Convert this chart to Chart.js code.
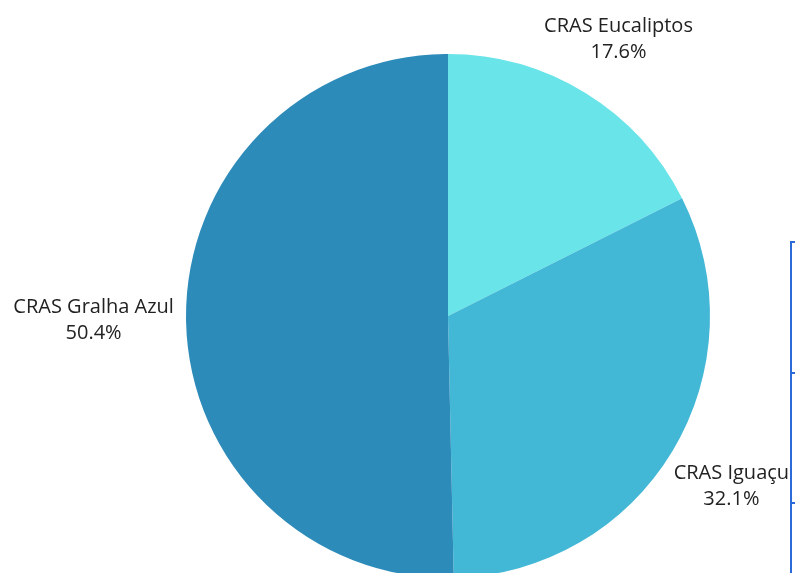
<!DOCTYPE html>
<html>
<head>
<meta charset="utf-8">
<script src="https://cdn.jsdelivr.net/npm/chart.js@4/dist/chart.umd.min.js"></script>
<style>
  html, body { margin: 0; padding: 0; background: #fff; overflow: hidden; width: 795px; height: 573px; }
  #wrap { position: absolute; left: 0; top: 0; width: 900px; height: 640px; }
  #box { position: absolute; left: 790px; top: 241px; width: 100px; height: 400px;
         border-left: 2px solid #2a6bd8; border-top: 2px solid #2a6bd8; }
  .row { position: absolute; left: 0; width: 100%; border-top: 2px solid #2a6bd8; }
</style>
</head>
<body>
<div id="wrap"><canvas id="pieChart"></canvas></div>
<div id="box"><div class="row" style="top:129px"></div><div class="row" style="top:259px"></div></div>
<script>
// カテゴリ
const labels = ['CRAS Eucaliptos', 'CRAS Iguaçu', 'CRAS Gralha Azul'];
// 割合 (%)
const values = [17.6, 32.1, 50.4];
const colors = ['#69E4E9', '#43B8D6', '#2D8BBA'];

// 外側ラベル (中心角の方向に配置)
const outerLabels = {
    id: 'outerLabels',
    afterDraw(chart) {
        const ctx = chart.ctx;
        const meta = chart.getDatasetMeta(0);
        ctx.save();
        ctx.font = '20px "Open Sans"';
        ctx.fillStyle = '#222';
        ctx.textAlign = 'center';
        ctx.textBaseline = 'middle';
        const lh = 26;
        meta.data.forEach((arc, i) => {
            const mid = (arc.startAngle + arc.endAngle) / 2;
            const l1 = labels[i];
            const l2 = values[i].toFixed(1) + '%';
            const w = Math.max(ctx.measureText(l1).width, ctx.measureText(l2).width);
            const c = Math.cos(mid), s = Math.sin(mid);
            const d = arc.outerRadius + 12 + Math.abs(c) * w / 2 + Math.abs(s) * 14;
            const x = arc.x + c * d;
            const y = arc.y + s * d;
            ctx.fillText(l1, x, y - lh / 2);
            ctx.fillText(l2, x, y + lh / 2);
        });
        ctx.restore();
    }
};

function createPieChart() {
    const pieCtx = document.getElementById('pieChart').getContext('2d');
    new Chart(pieCtx, {
        type: 'pie',
        data: {
            labels: labels,
            datasets: [{
                data: values,
                backgroundColor: colors,
                borderWidth: 0
            }]
        },
        options: {
            responsive: true,
            maintainAspectRatio: false,
            animation: false,
            layout: { padding: { top: 54, bottom: 62, left: 186, right: 190 } },
            plugins: {
                legend: { display: false },
                tooltip: { enabled: false }
            }
        },
        plugins: [outerLabels]
    });
}

createPieChart();
</script>
</body>
</html>
